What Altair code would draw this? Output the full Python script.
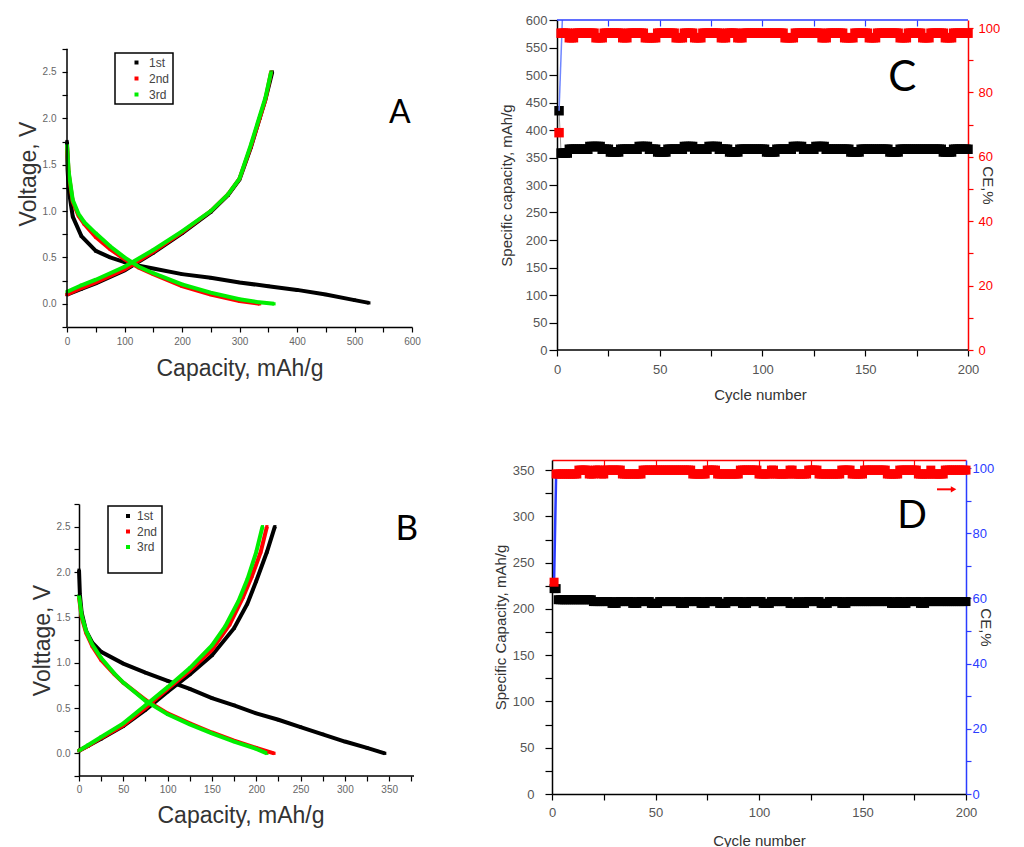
import altair as alt
import pandas as pd

FONT = "Liberation Sans"
LFONT = "Lato"
RED = "#ff0000"
BLUE = "#2a3cff"
GREEN = "#00ee00"

# ---------------- Panel A (voltage profiles) ----------------
a1_dis_cap = [0, 1, 3, 10, 25, 50, 75, 100, 125, 150, 200, 250, 300, 350, 400, 450, 500, 525]
a1_dis_v = [1.75, 1.45, 1.23, 0.94, 0.73, 0.57, 0.50, 0.45, 0.41, 0.38, 0.32, 0.28, 0.23, 0.19, 0.15, 0.10, 0.04, 0.01]
a1_chg_cap = [0, 25, 50, 100, 150, 200, 250, 280, 300, 320, 335, 345, 357]
a1_chg_v = [0.10, 0.16, 0.22, 0.36, 0.55, 0.76, 0.99, 1.17, 1.34, 1.69, 2.00, 2.20, 2.50]
a2_dis_cap = [0, 3, 10, 20, 30, 50, 75, 100, 125, 150, 200, 250, 300, 335]
a2_dis_v = [1.70, 1.40, 1.10, 0.95, 0.86, 0.72, 0.59, 0.48, 0.39, 0.32, 0.19, 0.10, 0.03, 0.00]
a2_chg_cap = [0, 25, 50, 100, 150, 200, 250, 280, 300, 320, 335, 345, 355]
a2_chg_v = [0.10, 0.17, 0.23, 0.37, 0.56, 0.77, 1.00, 1.18, 1.35, 1.70, 2.00, 2.20, 2.50]
a3_dis_cap = [0, 3, 10, 20, 30, 50, 75, 100, 125, 150, 200, 250, 300, 330, 360]
a3_dis_v = [1.72, 1.42, 1.12, 0.97, 0.88, 0.76, 0.62, 0.50, 0.40, 0.33, 0.21, 0.12, 0.05, 0.02, 0.00]
a3_chg_cap = [0, 25, 50, 100, 150, 200, 250, 280, 300, 320, 335, 345, 355]
a3_chg_v = [0.13, 0.20, 0.26, 0.40, 0.58, 0.78, 1.00, 1.18, 1.35, 1.72, 2.02, 2.22, 2.50]

# ---------------- Panel B (voltage profiles) ----------------
b1_dis_cap = [0, 1, 3, 8, 15, 25, 50, 75, 100, 125, 150, 175, 200, 225, 250, 275, 300, 325, 345]
b1_dis_v = [2.02, 1.75, 1.55, 1.35, 1.22, 1.12, 0.99, 0.89, 0.80, 0.71, 0.61, 0.53, 0.44, 0.37, 0.29, 0.21, 0.13, 0.06, 0.00]
b1_chg_cap = [0, 10, 25, 50, 75, 100, 125, 150, 175, 190, 200, 212, 221]
b1_chg_v = [0.03, 0.08, 0.16, 0.30, 0.48, 0.68, 0.87, 1.08, 1.38, 1.65, 1.90, 2.22, 2.50]
b2_dis_cap = [0, 3, 8, 15, 25, 40, 50, 75, 100, 125, 150, 175, 200, 220]
b2_dis_v = [1.72, 1.50, 1.33, 1.18, 1.03, 0.87, 0.78, 0.59, 0.44, 0.33, 0.23, 0.14, 0.06, 0.00]
b2_chg_cap = [0, 10, 25, 50, 75, 100, 125, 150, 170, 185, 195, 205, 212]
b2_chg_v = [0.03, 0.08, 0.17, 0.31, 0.50, 0.71, 0.91, 1.14, 1.42, 1.72, 1.95, 2.22, 2.50]
b3_dis_cap = [0, 3, 8, 15, 25, 40, 50, 75, 100, 125, 150, 175, 200, 212]
b3_dis_v = [1.74, 1.52, 1.35, 1.20, 1.05, 0.88, 0.78, 0.58, 0.43, 0.32, 0.22, 0.13, 0.05, 0.00]
b3_chg_cap = [0, 10, 25, 50, 75, 100, 125, 150, 165, 180, 190, 200, 207]
b3_chg_v = [0.03, 0.09, 0.18, 0.33, 0.53, 0.73, 0.94, 1.19, 1.40, 1.68, 1.92, 2.22, 2.50]

# ---------------- Panel C (cycling, run-length: value, number of cycles) ----------------
c_cap_runs = [(435, 1), (358, 4), (365, 10), (370, 6), (365, 4), (360, 5), (365, 9), (370, 5),
              (365, 4), (360, 5), (365, 8), (370, 5), (365, 7), (370, 5), (365, 5), (360, 5),
              (365, 13), (360, 5), (365, 8), (370, 5), (365, 6), (370, 5), (365, 12), (360, 5),
              (365, 14), (360, 5), (365, 21), (360, 5), (365, 8)]
c_ce_runs = [(67.5, 1), (98.4, 4), (97.0, 3), (98.4, 10), (97.0, 4), (98.4, 9), (97.0, 3), (98.4, 8),
             (97.0, 6), (98.4, 9), (97.0, 4), (98.4, 5), (97.0, 4), (98.4, 9), (97.0, 3), (98.4, 5),
             (97.0, 3), (98.4, 20), (97.0, 5), (98.4, 13), (97.0, 3), (98.4, 8), (97.0, 5), (98.4, 7),
             (97.0, 4), (98.4, 11), (97.0, 4), (98.4, 7), (97.0, 4), (98.4, 7), (97.0, 4), (98.4, 8)]
c_blue_cycle = [1.0, 2.6]
c_blue_cap = [435, 600]

# ---------------- Panel D (cycling, run-length) ----------------
d_cap_runs = [(222, 2), (210, 17), (208, 9), (206, 3), (208, 7), (206, 3), (208, 6), (206, 4),
              (208, 10), (206, 3), (208, 7), (206, 3), (208, 6), (206, 4), (208, 7), (206, 3),
              (208, 7), (206, 4), (208, 9), (206, 4), (208, 1), (206, 3), (208, 7), (206, 4),
              (208, 6), (206, 3), (208, 21), (206, 3), (208, 2), (206, 3), (208, 6), (206, 3), (208, 20)]
d_ce_runs = [(65, 1), (98.2, 11), (99.4, 5), (98.2, 3), (99.4, 3), (98.2, 2), (99.4, 8), (98.2, 10),
             (99.4, 24), (98.2, 7), (99.4, 5), (98.2, 11), (99.4, 9), (98.2, 6), (99.4, 2), (98.2, 7),
             (99.4, 2), (98.2, 7), (99.4, 5), (98.2, 11), (99.4, 5), (98.2, 6), (99.4, 11), (98.2, 6),
             (99.4, 9), (98.2, 6), (99.4, 1), (98.2, 6), (99.4, 11)]
d_arrow_cycle = [186, 193]
d_arrow_ce = [93.5, 93.5]
d_arrow_head_cycle = [194]
d_arrow_head_ce = [93.5]

cycles = list(range(1, 201))


def expand(runs):
    out = []
    for val, n in runs:
        out += [val] * n
    return out


def curves(items):
    rows = []
    for cyc, branch, caps, volts in items:
        for i, (c, v) in enumerate(zip(caps, volts)):
            rows.append(dict(cycle=cyc, branch=branch, i=i, cap=c, v=v))
    return pd.DataFrame(rows)


dfA = curves([("1st", "dis", a1_dis_cap, a1_dis_v), ("1st", "chg", a1_chg_cap, a1_chg_v),
              ("2nd", "dis", a2_dis_cap, a2_dis_v), ("2nd", "chg", a2_chg_cap, a2_chg_v),
              ("3rd", "dis", a3_dis_cap, a3_dis_v), ("3rd", "chg", a3_chg_cap, a3_chg_v)])
dfB = curves([("1st", "dis", b1_dis_cap, b1_dis_v), ("1st", "chg", b1_chg_cap, b1_chg_v),
              ("2nd", "dis", b2_dis_cap, b2_dis_v), ("2nd", "chg", b2_chg_cap, b2_chg_v),
              ("3rd", "dis", b3_dis_cap, b3_dis_v), ("3rd", "chg", b3_chg_cap, b3_chg_v)])

dfC = pd.DataFrame({"cycle": cycles, "cap": expand(c_cap_runs), "ce": expand(c_ce_runs)})
dfD = pd.DataFrame({"cycle": cycles, "cap": expand(d_cap_runs), "ce": expand(d_ce_runs)})
dfCblue = pd.DataFrame({"cycle": c_blue_cycle, "cap": c_blue_cap})
dfDarrow = pd.DataFrame({"cycle": d_arrow_cycle, "ce": d_arrow_ce})
dfDhead = pd.DataFrame({"cycle": d_arrow_head_cycle, "ce": d_arrow_head_ce})

# ---------------- common axis styles ----------------
ab_axis = dict(grid=False, tickColor="black", tickWidth=1.2,
               labelColor="#666666", titleColor="#333333", labelFontSize=10, titleFontSize=23,
               labelOverlap=False, labelFlush=False, titleFontWeight="normal", tickSize=5)
cd_axis = dict(grid=False, tickColor="black", tickWidth=1.2,
               labelColor="#555555", titleColor="#333333", labelFontSize=13, titleFontSize=15,
               labelOverlap=False, labelFlush=False, titleFontWeight="normal")


def vp_panel(df, xmin, xmax, ymax, xticks, xstep, width, height, color_domain, color_range, legend,
             letter, letter_pos, letter_size, ytitle, ypad, ylabpad, xpad, xlabpad, yoffset,
             x_domain_line, y_domain_line):
    xs = alt.Scale(domain=[xmin, xmax], nice=False, zero=False)
    ys = alt.Scale(domain=[-0.25, ymax], nice=False, zero=False)
    xenc = alt.X("cap:Q", scale=xs, axis=alt.Axis(
        title="Capacity, mAh/g", values=xticks,
        labelExpr=f"datum.value % {xstep} === 0 ? datum.label : ''",
        titlePadding=xpad, labelPadding=xlabpad, domain=x_domain_line, domainColor="black",
        domainWidth=1.5, **ab_axis))
    yenc = alt.Y("v:Q", scale=ys, axis=alt.Axis(
        title=ytitle, values=[-0.25, 0, 0.25, 0.5, 0.75, 1, 1.25, 1.5, 1.75, 2, 2.25, 2.5, 2.75],
        labelExpr="datum.value % 0.5 === 0 ? format(datum.value, '.1f') : ''",
        titlePadding=ypad, labelPadding=ylabpad, offset=yoffset, domain=y_domain_line,
        domainColor="black", domainWidth=1.5, **ab_axis))
    cs = alt.Scale(domain=color_domain, range=color_range)
    sq = alt.Chart(df).mark_square(size=10, opacity=1).encode(
        x=xenc, y=yenc, color=alt.Color("cycle:N", scale=cs, legend=legend))
    ln = alt.Chart(df).mark_line(strokeWidth=4).encode(
        x=xenc, y=yenc, color=alt.Color("cycle:N", scale=cs, legend=None),
        detail="branch:N", order="i:Q")
    ldf = pd.DataFrame({"cap": [letter_pos[0]], "v": [letter_pos[1]], "t": [letter]})
    txt = alt.Chart(ldf).mark_text(font=LFONT, fontSize=letter_size, color="black").encode(
        x=xenc, y=yenc, text="t:N")
    layers = [sq, ln, txt]
    if not y_domain_line:
        rdf = pd.DataFrame({"cap": [0], "v": [-0.25], "v2": [2.75]})
        layers.append(alt.Chart(rdf).mark_rule(color="black", strokeWidth=1.5).encode(
            x=xenc, y=yenc, y2="v2:Q"))
    if not x_domain_line:
        rdf = pd.DataFrame({"cap": [0], "cap2": [xmax], "v": [-0.25]})
        layers.append(alt.Chart(rdf).mark_rule(color="black", strokeWidth=1.5).encode(
            x=xenc, x2="cap2:Q", y=yenc))
    return alt.layer(*layers).properties(width=width, height=height)


SQ_PATH_A = "M 5 -1 H 7 V 1 H 5 Z"
SQ_PATH_B = "M 4 -1 H 6 V 1 H 4 Z"
legA = alt.Legend(title=None, orient="none", legendX=48, legendY=33, strokeColor="black",
                  fillColor="white", padding=3.5, symbolType=SQ_PATH_A, symbolSize=16,
                  labelOffset=18.5, labelFontSize=12, labelFont=FONT,
                  labelColor="#444444", rowPadding=4, symbolStrokeWidth=0)
legB = alt.Legend(title=None, orient="none", legendX=41, legendY=2, strokeColor="black",
                  fillColor="white", padding=4, symbolType=SQ_PATH_B, symbolSize=16,
                  labelOffset=13, labelFontSize=12, labelFont=FONT,
                  labelColor="#444444", rowPadding=3.5, symbolStrokeWidth=0)

A = vp_panel(dfA, 0, 600, 3.06, list(range(0, 601, 50)), 100, 345, 307,
             ["1st", "2nd", "3rd"], ["#000000", RED, GREEN], legA, "A", (579, 2.06), 32,
             "Voltage, V", 2, 6, 11, 4, 0, True, False)
B = vp_panel(dfB, -13.55, 378, 2.75, list(range(0, 376, 25)), 50, 347, 272,
             ["1st", "2nd", "3rd", " "], ["#000000", RED, GREEN, "transparent"], legB, "B",
             (370, 2.47), 35, "Volttage, V", 2, 4, 10, 3, -12, False, True)


def cyc_panel(df, xmin, lines_under, lines_over, extra_right, ymax, yvals, ystep, ytitle,
              right_color, top_color, width, height, letter, letter_pos, letter_size, sq_size,
              left_tick, left_labpad, left_tpad, bottom_labpad, bottom_tpad, right_labpad, left_offset):
    xs = alt.Scale(domain=[xmin, 200], nice=False, zero=False)
    draw_domains = xmin == 0
    xb = alt.X("cycle:Q", scale=xs, axis=alt.Axis(
        title="Cycle number", values=list(range(0, 201, 25)),
        labelExpr="datum.value % 50 === 0 ? datum.label : ''", tickSize=6,
        labelPadding=bottom_labpad, titlePadding=bottom_tpad, domain=draw_domains,
        domainColor="black", domainWidth=1.5, **cd_axis))
    xt = alt.X("cycle:Q", scale=xs, axis=alt.Axis(
        orient="top", labels=False, title=None, values=list(range(25, 200, 25)),
        domain=draw_domains, domainColor=top_color, tickColor=top_color, domainWidth=1.5,
        tickWidth=1.2, tickSize=alt.ExprRef("-6"), grid=False))
    yl = alt.Y("cap:Q", scale=alt.Scale(domain=[0, ymax], nice=False, zero=False), axis=alt.Axis(
        title=ytitle, values=yvals,
        labelExpr=f"datum.value % {ystep} === 0 ? datum.label : ''", tickSize=left_tick,
        labelPadding=left_labpad, titlePadding=left_tpad, offset=left_offset,
        domainColor="black", domainWidth=1.5, **cd_axis))
    rax = dict(cd_axis)
    rax.update(tickColor=right_color, labelColor=right_color)
    yr = alt.Y("ce:Q", scale=alt.Scale(domain=[0, 102.5], nice=False, zero=False), axis=alt.Axis(
        orient="right", title="CE,%", values=list(range(0, 101, 10)),
        labelExpr="datum.value % 20 === 0 ? datum.label : ''", tickSize=5,
        labelPadding=right_labpad, titleX=19, titleBaseline="middle",
        domainColor=right_color, domainWidth=1.5, **rax))

    left_layers = []
    for d, mk in lines_under:
        left_layers.append(alt.Chart(d).mark_line(**mk).encode(x=xb, y=yl))
    left_layers.append(alt.Chart(df).mark_square(size=sq_size, color="black", opacity=1).encode(x=xb, y=yl))
    for d, mk in lines_over:
        left_layers.append(alt.Chart(d).mark_line(**mk).encode(x=xb, y=yl))
    ldf = pd.DataFrame({"cycle": [letter_pos[0]], "cap": [letter_pos[1]], "t": [letter]})
    left_layers.append(alt.Chart(ldf).mark_text(font=LFONT, fontSize=letter_size, color="black").encode(
        x=xb, y=yl, text="t:N"))
    if not draw_domains:
        bdf = pd.DataFrame({"cycle": [0], "cycle2": [200], "cap": [0]})
        tdf = pd.DataFrame({"cycle": [0], "cycle2": [200], "cap": [ymax]})
        left_layers.append(alt.Chart(bdf).mark_rule(color="black", strokeWidth=1.5).encode(
            x=xb, x2="cycle2:Q", y=yl))
        left_layers.append(alt.Chart(tdf).mark_rule(color=top_color, strokeWidth=1.5).encode(
            x=xb, x2="cycle2:Q", y=yl))
    right_layers = []
    for d, kind, mk in extra_right:
        if kind == "line":
            right_layers.append(alt.Chart(d).mark_line(**mk).encode(x=xt, y=yr))
        else:
            right_layers.append(alt.Chart(d).mark_point(**mk).encode(x=xt, y=yr))
    right_layers.append(alt.Chart(df).mark_square(size=sq_size, color=RED, opacity=1).encode(x=xt, y=yr))
    left = alt.layer(*left_layers)
    right = alt.layer(*right_layers)
    ch = alt.layer(left, right).resolve_scale(y="independent").resolve_axis(x="independent", y="independent")
    return ch.properties(width=width, height=height)


dfCgray = dfC[["cycle", "cap"]]
C = cyc_panel(dfC, -2.43,
              [(dfCgray, dict(color="#999999", strokeWidth=1))],
              [(dfCblue, dict(color="#6f86ff", strokeWidth=1.5))],
              [],
              600, list(range(0, 601, 50)), 50, "Specific capacity, mAh/g", RED, BLUE,
              416, 330, "C", (168, 495), 42, 90, 8, 2, 11, 7, 11, 5, -5)
D = cyc_panel(dfD, 0, [], [],
              [(dfD[["cycle", "ce"]], "line", dict(color=BLUE, strokeWidth=2.5)),
               (dfDarrow, "line", dict(color=RED, strokeWidth=2)),
               (dfDhead, "point", dict(shape="triangle-right", size=40, color=RED, filled=True, opacity=1))],
              361, list(range(0, 351, 25)), 50, "Specific Capacity, mAh/g", BLUE, RED,
              414, 334, "D", (174, 300), 39, 81, 7, 11, 4, 6, 14, 1, 0)

left_col = alt.vconcat(A, B, spacing=119).resolve_scale(color="independent")
right_col = alt.vconcat(C, D, spacing=57)
chart = alt.hconcat(left_col, right_col, spacing=72).resolve_scale(color="independent").properties(
    padding={"left": 9, "top": 6, "right": 0, "bottom": 0}
).configure_view(stroke=None).configure_axis(
    labelFont=FONT, titleFont=FONT, grid=False
).configure_title(font=FONT).configure_legend(strokeWidth=1.5)

chart.save("out.html", embed_options={"renderer": "svg", "actions": False})
